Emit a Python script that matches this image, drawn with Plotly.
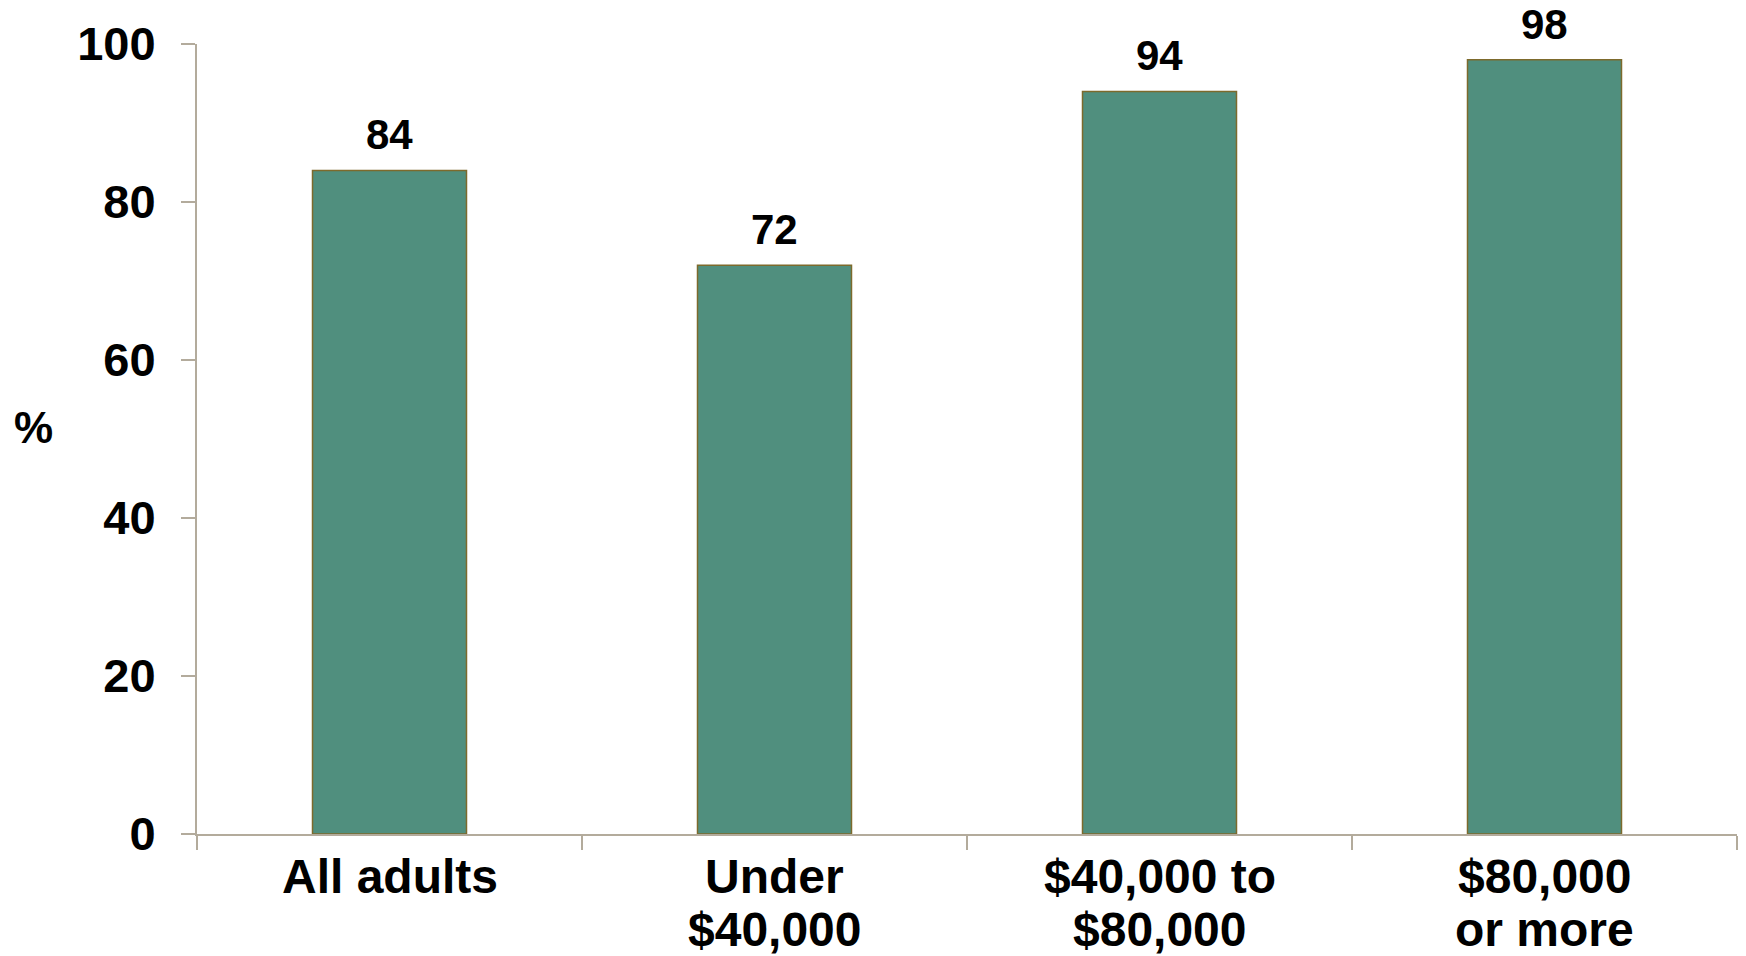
import plotly.graph_objects as go

categories = ["All adults", "Under<br>$40,000", "$40,000 to<br>$80,000", "$80,000<br>or more"]
values = [84, 72, 94, 98]
y_ticks = [0, 20, 40, 60, 80, 100]

bar_fill = "#508F7E"
bar_edge = "#7D6A2C"
axis_col = "#B3AB9C"
font_main = "Liberation Sans, Arial, sans-serif"

fig = go.Figure()
fig.add_trace(go.Bar(
    x=categories, y=values,
    marker=dict(color=bar_fill, line=dict(color=bar_edge, width=1.5)),
    width=0.4,
))

# value labels above the bars
for c, v in zip(categories, values):
    fig.add_annotation(x=c, y=v, text=str(v), showarrow=False,
                       yanchor="bottom", yshift=10,
                       font=dict(size=42, color="black", family=font_main, weight="bold"))

# category labels, one annotation per line (tighter line spacing than plotly's ticks)
line_shift = [-42, -95]
for c in categories:
    for i, part in enumerate(c.split("<br>")):
        fig.add_annotation(x=c, xref="x", y=0, yref="paper", text=part,
                           showarrow=False, xanchor="center", yanchor="middle",
                           yshift=line_shift[i],
                           font=dict(size=48, color="black", family=font_main, weight="bold"))

# "%" axis title, not rotated
fig.add_annotation(xref="paper", yref="paper", x=-0.106, y=0.515,
                   xanchor="center", yanchor="middle",
                   text="%", showarrow=False,
                   font=dict(size=44, color="black", family=font_main, weight="bold"))

fig.update_layout(
    width=1746, height=956,
    margin=dict(l=197, r=9, t=44, b=122),
    plot_bgcolor="white", paper_bgcolor="white",
    showlegend=False,
    font=dict(family=font_main, size=48, color="black", weight="bold"),
    xaxis=dict(
        automargin=False, showticklabels=False,
        showline=True, linecolor=axis_col, linewidth=2,
        ticks="outside", tickson="boundaries", ticklen=14, tickcolor=axis_col, tickwidth=2,
        showgrid=False,
    ),
    yaxis=dict(
        automargin=False,
        range=[0, 100], tickvals=y_ticks,
        showline=True, linecolor=axis_col, linewidth=2,
        ticks="outside", ticklen=14, tickcolor=axis_col, tickwidth=2,
        tickfont=dict(size=47, family=font_main, weight="bold"),
        ticklabelstandoff=16,
        showgrid=False, zeroline=False,
    ),
)

# drop the default 8px page margin so the figure fills the window
fig.write_html("out.html", config={"displayModeBar": False},
               post_script="document.body.style.margin='0';")
